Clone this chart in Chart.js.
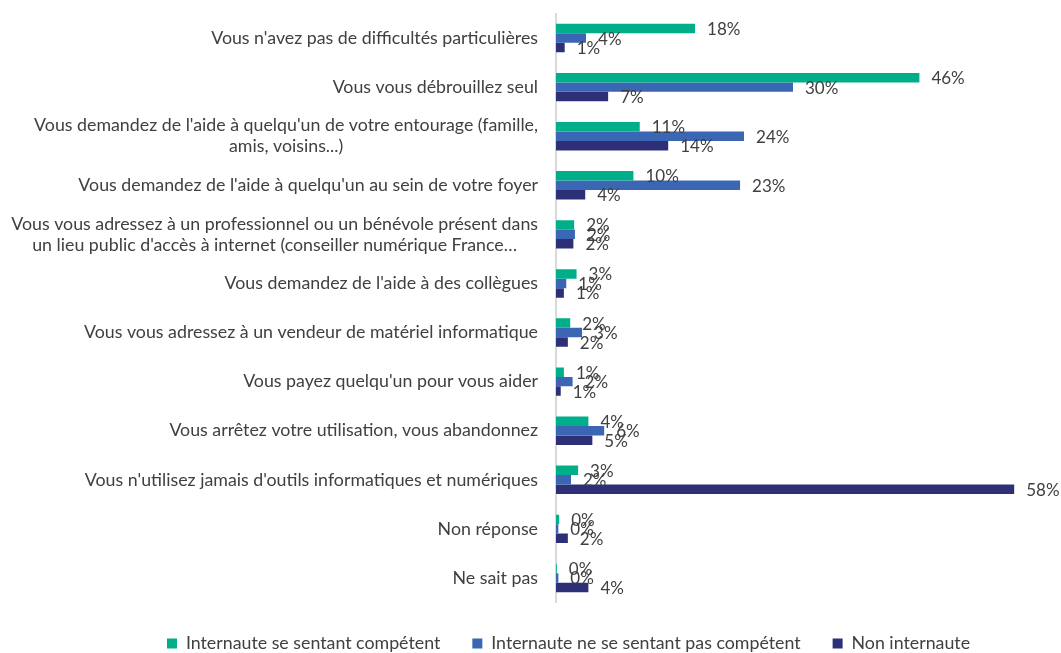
<!DOCTYPE html>
<html>
<head>
<meta charset="utf-8">
<script src="https://cdn.jsdelivr.net/npm/chart.js@4.4.1/dist/chart.umd.min.js"></script>
<style>
    html, body { margin: 0; padding: 0; background: #fff; }
    #wrap { width: 1061px; height: 653px; position: relative; }
</style>
</head>
<body>
<div id="wrap"><canvas id="helpChart"></canvas></div>
<script>
// Categories (y axis)
const categories = [
    "Vous n'avez pas de difficultés particulières",
    "Vous vous débrouillez seul",
    ["Vous demandez de l'aide à quelqu'un de votre entourage (famille,", "amis, voisins...)"],
    "Vous demandez de l'aide à quelqu'un au sein de votre foyer",
    ["Vous vous adressez à un professionnel ou un bénévole présent dans", "un lieu public d'accès à internet (conseiller numérique France…"],
    "Vous demandez de l'aide à des collègues",
    "Vous vous adressez à un vendeur de matériel informatique",
    "Vous payez quelqu'un pour vous aider",
    "Vous arrêtez votre utilisation, vous abandonnez",
    "Vous n'utilisez jamais d'outils informatiques et numériques",
    "Non réponse",
    "Ne sait pas"
];

// Series values (%)
const competent = [17.6, 46, 10.6, 9.8, 2.3, 2.6, 1.8, 1.0, 4.1, 2.8, 0.4, 0.1];
const nonCompetent = [3.8, 30, 23.8, 23.3, 2.4, 1.3, 3.3, 2.1, 6.1, 1.9, 0.3, 0.3];
const nonInternaute = [1.1, 6.6, 14.2, 3.7, 2.2, 1.0, 1.5, 0.6, 4.6, 58, 1.5, 4.1];

const seriesNames = ['Internaute se sentant compétent', 'Internaute ne se sentant pas compétent', 'Non internaute'];

const FONT = "Lato, 'Liberation Sans', sans-serif";
const FONT_SIZE = 17.8;
const VALUE_SIZE = 17;
const TEXT = '#404040';

// Value labels at bar ends
const barLabels = {
    id: 'barLabels',
    afterDatasetsDraw(chart) {
        const ctx = chart.ctx;
        ctx.save();
        ctx.font = VALUE_SIZE + 'px ' + FONT;
        ctx.fillStyle = TEXT;
        ctx.textAlign = 'left';
        ctx.textBaseline = 'middle';
        chart.data.datasets.forEach((ds, i) => {
            chart.getDatasetMeta(i).data.forEach((bar, j) => {
                ctx.fillText(Math.round(ds.data[j]) + '%', bar.x + 12, bar.y + 1);
            });
        });
        ctx.restore();
    }
};

// Category labels: right aligned block, wrapped lines centred inside it
const categoryLabels = {
    id: 'categoryLabels',
    afterDraw(chart) {
        const ctx = chart.ctx;
        const yScale = chart.scales.y;
        const right = chart.chartArea.left - 18;
        const lineH = 21;
        ctx.save();
        ctx.font = FONT_SIZE + 'px ' + FONT;
        ctx.fillStyle = TEXT;
        ctx.textAlign = 'center';
        ctx.textBaseline = 'middle';
        chart.data.labels.forEach((lbl, i) => {
            const lines = Array.isArray(lbl) ? lbl : [lbl];
            const w = Math.max(...lines.map(l => ctx.measureText(l).width));
            const cx = right - w / 2;
            const cy = yScale.getPixelForValue(i);
            lines.forEach((l, k) => {
                ctx.fillText(l, cx, cy + (k - (lines.length - 1) / 2) * lineH);
            });
        });
        ctx.restore();
    }
};

const chart = new Chart(document.getElementById('helpChart').getContext('2d'), {
    type: 'bar',
    data: {
        labels: categories,
        datasets: [{
            label: seriesNames[0],
            data: competent,
            backgroundColor: '#00AE89'
        }, {
            label: seriesNames[1],
            data: nonCompetent,
            backgroundColor: '#3A66B4'
        }, {
            label: seriesNames[2],
            data: nonInternaute,
            backgroundColor: '#2E3077'
        }]
    },
    options: {
        indexAxis: 'y',
        responsive: true,
        maintainAspectRatio: false,
        animation: false,
        categoryPercentage: 0.58,
        barPercentage: 1,
        layout: {
            padding: { top: 13.5, right: 31, left: 107, bottom: 0 }
        },
        plugins: {
            legend: {
                position: 'bottom',
                labels: {
                    boxWidth: 10,
                    boxHeight: 10,
                    padding: 32,
                    color: TEXT,
                    font: { family: FONT, size: FONT_SIZE }
                }
            },
            tooltip: { enabled: false }
        },
        scales: {
            x: {
                display: false,
                min: 0,
                max: 60
            },
            y: {
                afterFit: function (scale) {
                    scale.width = 556 - 107;
                },
                grid: { display: false, drawTicks: false },
                border: { display: true, color: '#d9d9d9', width: 2 },
                ticks: { display: false }
            }
        }
    },
    plugins: [barLabels, categoryLabels]
});

// keep the legend strip at a fixed height so the plot fills down to it
const legendFit = chart.legend.fit;
chart.legend.fit = function () {
    legendFit.call(this);
    this.height = 50.5;
};
chart.update();
</script>
</body>
</html>
